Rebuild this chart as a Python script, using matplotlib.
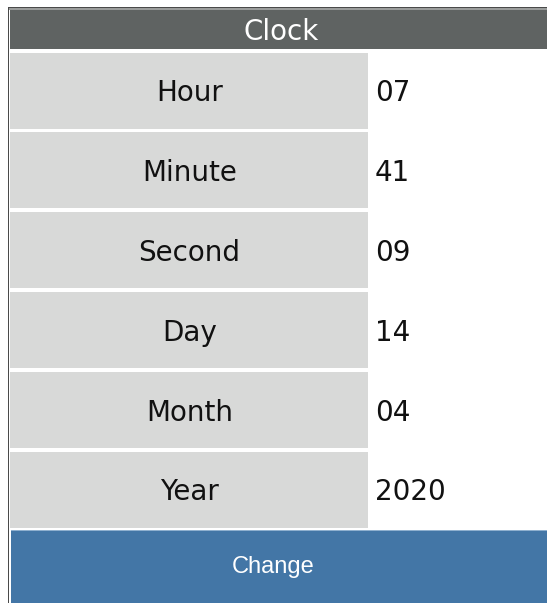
import matplotlib
matplotlib.use("Agg")
import matplotlib.pyplot as plt
from matplotlib.patches import Rectangle

title = "Clock"
labels = ["Hour", "Minute", "Second", "Day", "Month", "Year"]
values = ["07", "41", "09", "14", "04", "2020"]
button_text = "Change"

W, H = 547, 603
fig = plt.figure(figsize=(W / 100, H / 100), dpi=100)
ax = fig.add_axes([0, 0, 1, 1])
ax.set_xlim(0, W)
ax.set_ylim(H, 0)
ax.axis("off")

# outer border
ax.add_patch(Rectangle((8, 7), W - 8, 1.2, color="#4a4a4a", lw=0))
ax.add_patch(Rectangle((8, 7), 1.3, H - 7, color="#4a4a4a", lw=0))
ax.add_patch(Rectangle((9.3, 8.2), W, 1.3, color="#9a9c9b", lw=0))

# header
ax.add_patch(Rectangle((10, 9.5), W - 10, 39.5, color="#5f6362", lw=0))
ax.text(281, 31.5, title, color="white", fontsize=20, ha="center", va="center",
        family="DejaVu Sans")

# rows
top0, step, hgt = 52.5, 79.9, 76
tops = [top0 + i * step for i in range(len(labels))]
ax.barh([t + hgt / 2 for t in tops], [358] * len(labels), left=10, height=hgt,
        color="#d8d9d8", lw=0)
for t, lab, val in zip(tops, labels, values):
    yc = t + hgt / 2 + 2.5
    ax.text(189.5, yc, lab, color="#111111", fontsize=20, ha="center", va="center",
            family="DejaVu Sans")
    ax.text(375, yc, val, color="#111111", fontsize=20, ha="left", va="center",
            family="DejaVu Sans")

# button
ax.add_patch(Rectangle((11, 530), W - 11, H - 530, color="#4376a6", lw=0))
ax.add_patch(Rectangle((11, 529.5), W - 11, 1.2, color="#8fb0cf", lw=0))
ax.text(273, 567.5, button_text, color="white", fontsize=17, ha="center", va="center",
        family="Liberation Sans")

fig.savefig("out.png", dpi=100)
